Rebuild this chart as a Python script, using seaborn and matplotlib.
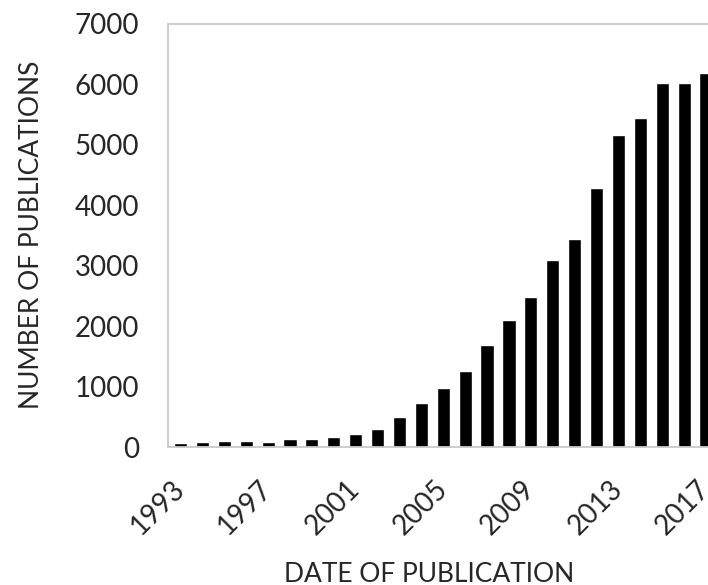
import pandas as pd
import matplotlib.pyplot as plt
import seaborn as sns

# publications per year
years = [str(y) for y in range(1993, 2018)]
counts = [60, 77, 94, 94, 77, 137, 137, 165, 215, 297, 500,
          733, 969, 1261, 1690, 2103, 2483, 3099, 3434, 4276,
          5151, 5438, 6026, 6026, 6190]
shown_years = ["1993", "1997", "2001", "2005", "2009", "2013", "2017"]

df = pd.DataFrame({"Year": years, "Count": counts})

sns.set_style("white")
plt.rcParams["font.family"] = ["Lato", "DejaVu Sans"]

fig = plt.figure(figsize=(7.08, 5.85), dpi=100)
ax = fig.add_axes([168 / 708, 138 / 585, 540 / 708, 423.4 / 585])

sns.barplot(data=df, x="Year", y="Count", color="black", width=0.6,
            saturation=1, ax=ax)

ax.set_ylim(0, 7000)
ax.set_xlim(-0.57, 24.09)
ax.set_yticks(range(0, 7001, 1000))

tick_pos = [years.index(y) for y in shown_years]
ax.set_xticks(tick_pos)
ax.set_xticklabels(shown_years, rotation=45, ha="right", va="center",
                   rotation_mode="anchor")

ax.tick_params(axis="y", length=0, pad=21, labelsize=20)
ax.tick_params(axis="x", length=0, pad=27, labelsize=20)

ax.set_xlabel("DATE OF PUBLICATION", fontsize=19, labelpad=16)
ax.set_ylabel("NUMBER OF PUBLICATIONS", fontsize=19, labelpad=22)
ax.xaxis.label.set_x(0.483)

for side in ["left", "bottom", "top"]:
    ax.spines[side].set_color("#c8c8c8")
    ax.spines[side].set_linewidth(1.3)
ax.spines["right"].set_visible(False)

fig.savefig("out.png", dpi=100)
